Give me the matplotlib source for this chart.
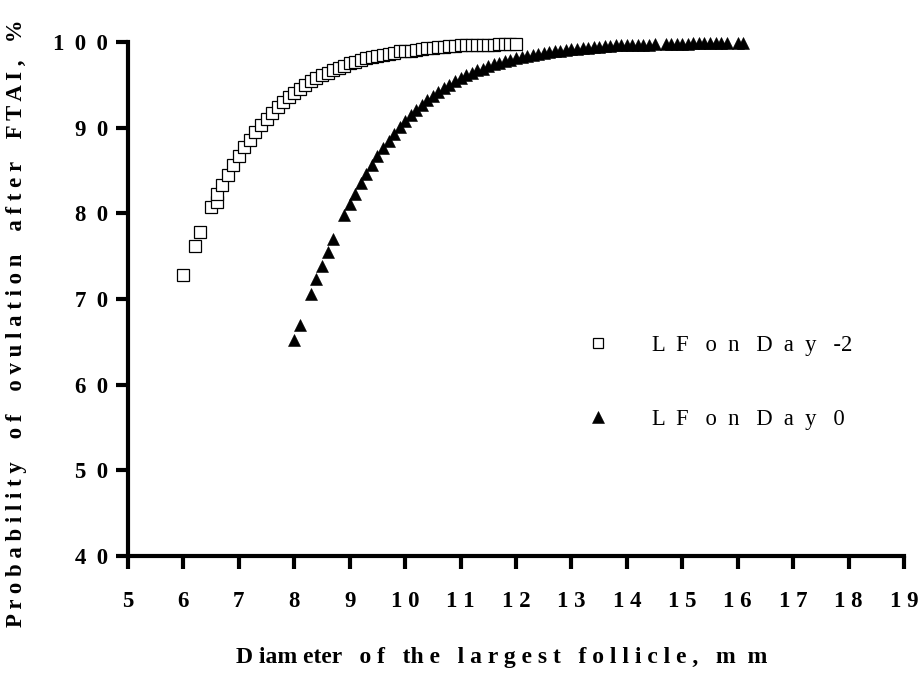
import matplotlib
matplotlib.use("Agg")
import matplotlib.pyplot as plt
from matplotlib.lines import Line2D

# Predicted probability of ovulation (%) by diameter of the largest follicle (mm)
day_minus2_diameter = [6.0, 6.2, 6.3, 6.5, 6.6, 6.6,
                       6.7, 6.8, 6.9, 7.0, 7.1, 7.2, 7.3, 7.4, 7.5, 7.6, 7.7, 7.8, 7.9,
                       8.0, 8.1, 8.2, 8.3, 8.4, 8.5, 8.6, 8.7, 8.8, 8.9,
                       9.0, 9.1, 9.2, 9.3, 9.4, 9.5, 9.6, 9.7, 9.8, 9.9,
                       10.0, 10.1, 10.2, 10.3, 10.4, 10.5, 10.6, 10.7, 10.8, 10.9,
                       11.0, 11.1, 11.2, 11.3, 11.4, 11.5, 11.6, 11.7, 11.8, 11.9, 12.0]
day_minus2_prob = [72.8, 76.2, 77.8, 80.7, 81.3, 82.2,
                   83.3, 84.5, 85.6, 86.7, 87.7, 88.6, 89.5, 90.3, 91.0, 91.7, 92.4, 93.0, 93.6,
                   94.1, 94.5, 95.0, 95.4, 95.8, 96.1, 96.4, 96.7, 97.0, 97.2,
                   97.5, 97.7, 97.9, 98.1, 98.2, 98.4, 98.5, 98.6, 98.7, 98.9,
                   98.9, 99.0, 99.1, 99.2, 99.3, 99.3, 99.4, 99.4, 99.5, 99.5,
                   99.6, 99.6, 99.6, 99.7, 99.7, 99.7, 99.7, 99.8, 99.8, 99.8, 99.8]

day0_diameter = [8.0, 8.1, 8.3, 8.4, 8.5, 8.6, 8.7,
                 8.9, 9.0, 9.1, 9.2, 9.3, 9.4, 9.5, 9.6, 9.7, 9.8, 9.9,
                 10.0, 10.1, 10.2, 10.3, 10.4, 10.5, 10.6, 10.7, 10.8, 10.9,
                 11.0, 11.1, 11.2, 11.3, 11.4, 11.5, 11.6, 11.7, 11.8, 11.9,
                 12.0, 12.1, 12.2, 12.3, 12.4, 12.5, 12.6, 12.7, 12.8, 12.9,
                 13.0, 13.1, 13.2, 13.3, 13.4, 13.5, 13.6, 13.7, 13.8, 13.9,
                 14.0, 14.1, 14.2, 14.3, 14.4, 14.5,
                 14.7, 14.8, 14.9, 15.0, 15.1, 15.2, 15.3, 15.4, 15.5, 15.6, 15.7, 15.8,
                 16.0, 16.1]
day0_prob = [65.2, 67.0, 70.6, 72.3, 73.9, 75.5, 77.0,
             79.8, 81.1, 82.3, 83.5, 84.6, 85.7, 86.7, 87.6, 88.5, 89.3, 90.1,
             90.8, 91.5, 92.1, 92.7, 93.2, 93.7, 94.2, 94.6, 95.0, 95.4,
             95.8, 96.1, 96.4, 96.7, 96.9, 97.2, 97.4, 97.6, 97.8, 97.9,
             98.1, 98.3, 98.4, 98.5, 98.6, 98.7, 98.8, 98.9, 99.0, 99.1,
             99.2, 99.2, 99.3, 99.3, 99.4, 99.4, 99.5, 99.5, 99.6, 99.6,
             99.6, 99.7, 99.7, 99.7, 99.7, 99.8,
             99.8, 99.8, 99.8, 99.8, 99.8, 99.9, 99.9, 99.9, 99.9, 99.9, 99.9, 99.9,
             99.9, 99.9]

series_labels = ["L  F   o  n   D  a  y   -2", "L  F   o  n   D  a  y   0"]

x_ticks = [5, 6, 7, 8, 9, 10, 11, 12, 13, 14, 15, 16, 17, 18, 19]
x_tick_labels = ["5", "6", "7", "8", "9", "1 0", "1 1", "1 2", "1 3", "1 4",
                 "1 5", "1 6", "1 7", "1 8", "1 9"]
y_ticks = [40, 50, 60, 70, 80, 90, 100]
y_tick_labels = ["4 \u20090", "5 \u20090", "6 \u20090", "7 \u20090", "8 \u20090",
                 "9 \u20090", "1 \u20090 \u20090"]

x_title = "D iam eter   o f   th e   l a r g e s t   f o l l i c l e ,   m  m"
y_title = "P r o b a b i l i t y    o f    o v u l a t i o n    a f t e r    F T A I ,   %"

serif = ["Liberation Serif", "DejaVu Serif"]

W, H = 919, 675
fig = plt.figure(figsize=(W / 100, H / 100), dpi=100)
ax = fig.add_axes([128 / W, 1 - 556 / H, (904 - 128) / W, (556 - 42) / H])

ax.plot(day_minus2_diameter, day_minus2_prob, linestyle="none", marker="s",
        markersize=8, markerfacecolor="white", markeredgecolor="black",
        markeredgewidth=0.9, clip_on=False, zorder=3)
ax.plot(day0_diameter, day0_prob, linestyle="none", marker="^",
        markersize=8.5, markerfacecolor="black", markeredgecolor="black",
        markeredgewidth=0.4, clip_on=False, zorder=2)

ax.set_xlim(5, 19)
ax.set_ylim(40, 100)
ax.set_xticks(x_ticks)
ax.set_xticklabels(x_tick_labels)
ax.set_yticks(y_ticks)
ax.set_yticklabels(y_tick_labels)

for side in ("top", "right"):
    ax.spines[side].set_visible(False)
for side in ("left", "bottom"):
    ax.spines[side].set_linewidth(3)
    ax.spines[side].set_capstyle("projecting")

ax.tick_params(axis="both", direction="out", length=9, width=3, color="black")
ax.tick_params(axis="x", pad=16)
ax.tick_params(axis="y", pad=5.5)
for lbl in ax.get_xticklabels() + ax.get_yticklabels():
    lbl.set_fontfamily(serif)
    lbl.set_fontweight("bold")
    lbl.set_fontsize(16.5)

handles = [
    Line2D([], [], linestyle="none", marker="s", markersize=7.5,
           markerfacecolor="white", markeredgecolor="black", markeredgewidth=0.9),
    Line2D([], [], linestyle="none", marker="^", markersize=8,
           markerfacecolor="black", markeredgecolor="black", markeredgewidth=0.4),
]
leg = ax.legend(handles, series_labels, loc="upper left",
                bbox_to_anchor=(0.565, 0.47), frameon=False,
                handlelength=1.0, handletextpad=1.9, labelspacing=2.35,
                prop={"family": serif, "size": 16.3})

fig.text(502 / W, 1 - 658 / H, x_title, ha="center", va="center",
         fontsize=17, fontweight="bold", family=serif)
fig.text(17 / W, 1 - 323 / H, y_title, ha="center", va="center", rotation=90,
         fontsize=16.4, fontweight="bold", family=serif)

fig.savefig("out.png", dpi=100, facecolor="white")
